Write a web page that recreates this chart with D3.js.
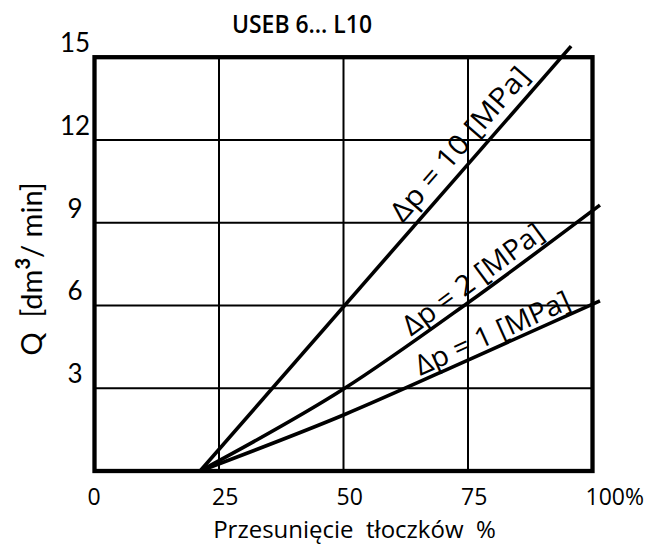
<!DOCTYPE html>
<html><head><meta charset="utf-8">
<script src="https://cdn.jsdelivr.net/npm/d3@7"></script>
<style>html,body{margin:0;padding:0;background:#fff;} svg{display:block;}</style>
</head><body>
<script>
// ---- data ----
const chartTitle = "USEB 6... L10";
const xTicks = [0, 25, 50, 75, 100];
const xTickLabels = ["0", "25", "50", "75", "100%"];
const yTicks = [3, 6, 9, 12, 15];
const yTickLabels = ["3", "6", "9", "12", "15"];
const xGrid = [25, 50, 75];
const yGrid = [3, 6, 9, 12];
const seriesNames = ["Δp = 10 [MPa]", "Δp = 2 [MPa]", "Δp = 1 [MPa]"];
const dp10 = [[21.2, 0], [95.7, 15.4]];
const dp2 = [[21.2, 0], [50, 2.97], [75, 6.1], [101.5, 9.64]];
const dp1 = [[21.2, 0], [50, 2.03], [75, 4.02], [101.5, 6.17]];
const xTitle = "Przesunięcie  tłoczków  %";

// label placement (x value along the line, perpendicular offset px, text length px)
const labelAt = [76.3, 77.9, 81.1];
const labelOff = [10, 6.5, 5];
const labelLen = [195, 168, 167];

const W = 647, H = 547;
const svg = d3.select("body").append("svg").attr("width", W).attr("height", H);

const x = d3.scaleLinear().domain([0, 100]).range([94.5, 592.5]);
const y = d3.scaleLinear().domain([0, 15]).range([471, 57.2]);

// grid
svg.append("g").selectAll("line").data(xGrid).join("line")
  .attr("x1", d => x(d)).attr("x2", d => x(d))
  .attr("y1", y(0)).attr("y2", y(15))
  .attr("stroke", "#000").attr("stroke-width", 2);
svg.append("g").selectAll("line").data(yGrid).join("line")
  .attr("x1", x(0)).attr("x2", x(100))
  .attr("y1", d => y(d)).attr("y2", d => y(d))
  .attr("stroke", "#000").attr("stroke-width", 2);

// frame
svg.append("rect")
  .attr("x", x(0)).attr("y", y(15))
  .attr("width", x(100) - x(0)).attr("height", y(0) - y(15))
  .attr("fill", "none").attr("stroke", "#000").attr("stroke-width", 4.3);

// series lines
const series = [dp10, dp2, dp1];
const line = d3.line().x(d => x(d[0])).y(d => y(d[1])).curve(d3.curveMonotoneX);
svg.append("g").selectAll("path").data(series).join("path")
  .attr("d", line).attr("fill", "none").attr("stroke", "#000")
  .attr("stroke-width", 3.6).attr("stroke-linecap", "butt");

// series labels
series.forEach((pts, i) => {
  const v = labelAt[i];
  let k = 0;
  while (k < pts.length - 2 && pts[k + 1][0] < v) k++;
  const p0 = pts[k], p1 = pts[k + 1];
  const t = (v - p0[0]) / (p1[0] - p0[0]);
  const yv = p0[1] + t * (p1[1] - p0[1]);
  const px = x(v), py = y(yv);
  const ang = Math.atan2(y(p1[1]) - y(p0[1]), x(p1[0]) - x(p0[0]));
  const nx = Math.sin(ang), ny = -Math.cos(ang);
  const tx = px + nx * labelOff[i], ty = py + ny * labelOff[i];
  svg.append("text")
    .attr("transform", `translate(${tx},${ty}) rotate(${ang * 180 / Math.PI})`)
    .attr("text-anchor", "middle")
    .attr("font-family", "'Open Sans', sans-serif")
    .attr("font-size", 28).attr("font-weight", 400)
    .attr("textLength", labelLen[i]).attr("lengthAdjust", "spacingAndGlyphs")
    .attr("fill", "#000")
    .text(seriesNames[i]);
});

// x tick labels
svg.append("g").selectAll("text").data(xTicks).join("text")
  .attr("x", d => x(d) - 7).attr("y", 505)
  .attr("text-anchor", "start")
  .attr("font-family", "'Open Sans', sans-serif").attr("font-size", 23)
  .attr("fill", "#000")
  .text((d, i) => xTickLabels[i]);

// y tick labels
svg.append("g").selectAll("text").data(yTicks).join("text")
  .attr("x", 75).attr("y", d => y(d) - 5)
  .attr("text-anchor", "middle")
  .attr("font-family", "Lato, sans-serif").attr("font-size", 26)
  .attr("fill", "#000")
  .text((d, i) => yTickLabels[i]);

// x title
svg.append("text")
  .attr("x", 354.5).attr("y", 538)
  .attr("text-anchor", "middle")
  .attr("font-family", "'Open Sans', sans-serif").attr("font-size", 24)
  .style("white-space", "pre")
  .attr("fill", "#000")
  .text(xTitle);

// y title
const yt = svg.append("text")
  .attr("transform", "translate(41.7,269) rotate(-90)")
  .attr("text-anchor", "middle")
  .attr("font-family", "Lato, sans-serif").attr("font-size", 29)
  .style("white-space", "pre")
  .attr("fill", "#000");
yt.append("tspan").text("Q  [dm");
yt.append("tspan").attr("dy", -12).attr("font-size", 20).attr("font-weight", "bold").text("3");
yt.append("tspan").attr("dy", 12).text("/ min]");

// chart title
svg.append("text")
  .attr("x", 302).attr("y", 33)
  .attr("text-anchor", "middle")
  .attr("font-family", "'Open Sans', sans-serif").attr("font-size", 25).attr("font-weight", 600)
  .attr("textLength", 140).attr("lengthAdjust", "spacingAndGlyphs")
  .attr("fill", "#000")
  .text(chartTitle);
</script>
</body></html>
